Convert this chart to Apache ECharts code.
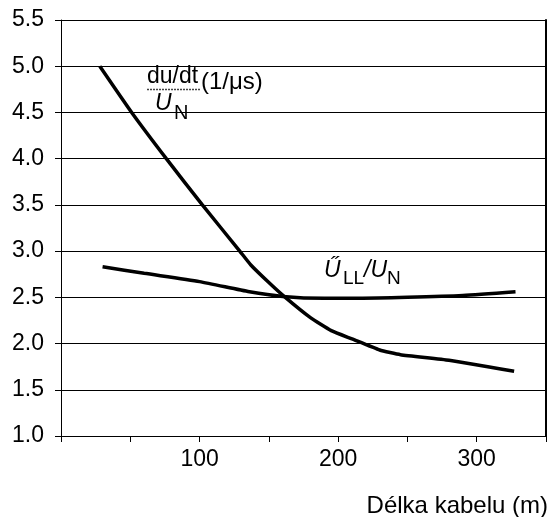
<!DOCTYPE html>
<html>
<head>
<meta charset="utf-8">
<script src="https://cdn.jsdelivr.net/npm/echarts@6/dist/echarts.min.js"></script>
<style>
html, body { margin: 0; padding: 0; background: #fff; }
#chart1 { width: 552px; height: 517px; }
</style>
</head>
<body>
<div id="chart1"></div>
<script>
var font = "Arial, 'Liberation Sans', sans-serif";

// du/dt / UN (1/us) against cable length (m)
var dudtLength = [28, 51, 76, 102, 129, 137, 150, 161, 180, 195, 210, 230, 245, 280, 327];
var dudtValue = [5.0, 4.5, 4.0, 3.5, 3.0, 2.85, 2.66, 2.51, 2.28, 2.14, 2.05, 1.93, 1.88, 1.82, 1.70];

// peak ULL / UN against cable length (m)
var ullLength = [30, 60, 100, 136, 160, 190, 215, 250, 290, 328];
var ullValue = [2.83, 2.76, 2.67, 2.56, 2.51, 2.49, 2.49, 2.50, 2.52, 2.56];

var xLabels = [100, 200, 300];

function pairs(xs, ys) {
  var out = [];
  for (var i = 0; i < xs.length; i++) out.push([xs[i], ys[i]]);
  return out;
}

var dom = document.getElementById("chart1");
var myChart = echarts.init(dom);

var option = {
  animation: false,
  grid: {
    left: 61,
    right: 6,
    top: 20,
    bottom: 81,
    outerBoundsMode: 'none'
  },
  xAxis: {
    type: 'value',
    min: 0,
    max: 350,
    interval: 50,
    name: 'Délka kabelu (m)',
    nameLocation: 'end',
    nameGap: 2,
    nameTextStyle: {
      fontFamily: font,
      fontSize: 24,
      color: '#000',
      align: 'right',
      verticalAlign: 'top',
      padding: [58, 0, 0, 0]
    },
    axisLine: { lineStyle: { color: '#000', width: 1 } },
    axisTick: { show: true, length: 6, lineStyle: { color: '#000' } },
    axisLabel: {
      color: '#000',
      fontFamily: font,
      fontSize: 23,
      margin: 12,
      formatter: function (v) {
        return xLabels.indexOf(v) >= 0 ? String(v) : '';
      }
    },
    splitLine: { show: false }
  },
  yAxis: [
    {
      type: 'value',
      min: 1,
      max: 5.5,
      interval: 0.5,
      axisLine: { show: true, lineStyle: { color: '#000', width: 1 } },
      axisTick: { show: true, length: 6, lineStyle: { color: '#000' } },
      axisLabel: {
        color: '#000',
        fontFamily: font,
        fontSize: 23,
        margin: 17,
        formatter: function (v) { return v.toFixed(1); }
      },
      splitLine: { show: true, lineStyle: { color: '#000', width: 1 } }
    },
    {
      type: 'value',
      position: 'right',
      min: 1,
      max: 5.5,
      interval: 0.5,
      axisLine: { show: true, lineStyle: { color: '#000', width: 2 } },
      axisTick: { show: false },
      axisLabel: { show: false },
      splitLine: { show: false }
    }
  ],
  series: [
    {
      name: 'dudt',
      type: 'line',
      data: pairs(dudtLength, dudtValue),
      smooth: 0.15,
      showSymbol: false,
      lineStyle: { color: '#000', width: 3.5 }
    },
    {
      name: 'ull',
      type: 'line',
      data: pairs(ullLength, ullValue),
      smooth: 0.2,
      showSymbol: false,
      lineStyle: { color: '#000', width: 3.5 }
    }
  ],
  graphic: [
    { type: 'text', x: 147, y: 65, style: { text: 'du/dt', font: '23px ' + font, fill: '#000' } },
    { type: 'line', shape: { x1: 147, y1: 89.5, x2: 200, y2: 89.5 }, style: { stroke: '#444', lineWidth: 1.5, lineDash: [2, 1] } },
    { type: 'text', x: 155, y: 92, style: { text: 'U', font: 'italic 23px ' + font, fill: '#000' } },
    { type: 'text', x: 174, y: 103, style: { text: 'N', font: '20px ' + font, fill: '#000' } },
    { type: 'text', x: 201, y: 70, style: { text: '(1/\u03bcs)', font: '24px ' + font, fill: '#000' } },
    { type: 'text', x: 324, y: 259, style: { text: '\u0170', font: 'italic 23px ' + font, fill: '#000' } },
    { type: 'text', x: 343, y: 269, style: { text: 'LL', font: '19px ' + font, fill: '#000' } },
    { type: 'text', x: 364, y: 259, style: { text: '/U', font: 'italic 23px ' + font, fill: '#000' } },
    { type: 'text', x: 387, y: 269, style: { text: 'N', font: '19px ' + font, fill: '#000' } }
  ]
};

myChart.setOption(option);
</script>
</body>
</html>
